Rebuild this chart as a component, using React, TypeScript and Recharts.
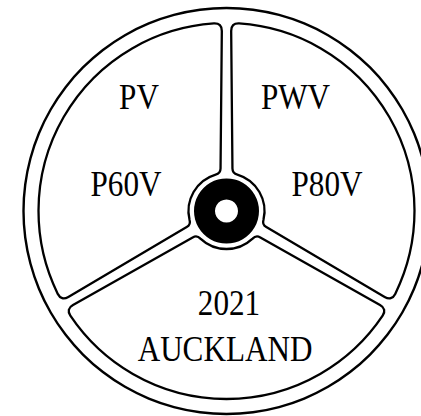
import React from "react"
import { Pie, PieChart } from "recharts"

// three panels of the wheel, drawn clockwise from the top spoke
const panels = ["upper-right", "bottom", "upper-left"]
const panelShare = [1, 1, 1]

const rimData = [{ name: "rim", value: 1 }]
const hubData = [{ name: "hub", value: 1 }]

const labelTexts = ["PV", "PWV", "P60V", "P80V", "2021", "AUCKLAND"]

const W = 421
const H = 416
const CX = 226.5
const CY = 211

const RAD = Math.PI / 180

const pt = (cx: number, cy: number, r: number, a: number) => ({
    x: cx + r * Math.cos(a * RAD),
    y: cy - r * Math.sin(a * RAD),
})

const toward = (p: any, q: any, k: number) => {
    const dx = q.x - p.x
    const dy = q.y - p.y
    const len = Math.sqrt(dx * dx + dy * dy)
    return { x: p.x + (dx / len) * k, y: p.y + (dy / len) * k }
}

// panel with spokes of (almost) constant width instead of paddingAngle wedges
const PanelShape = (props: any) => {
    const { cx, cy, innerRadius, outerRadius, startAngle, endAngle } = props
    const R = outerRadius
    const r0 = innerRadius
    const wo = 4.6 // half spoke width at the rim
    const wi = 6 // half spoke width at the hub
    const ko = 8 // corner rounding outside
    const ki = 5 // corner rounding at the hub
    const dO = Math.asin(wo / R) / RAD
    const dI = Math.asin(wi / r0) / RAD

    const aA = startAngle - dO
    const aB = endAngle + dO
    const aC = endAngle + dI
    const aD = startAngle - dI

    const A = pt(cx, cy, R, aA)
    const B = pt(cx, cy, R, aB)
    const C = pt(cx, cy, r0, aC)
    const D = pt(cx, cy, r0, aD)

    const A1 = pt(cx, cy, R, aA - ko / R / RAD)
    const B0 = pt(cx, cy, R, aB + ko / R / RAD)
    const B1 = toward(B, C, ko)
    const C0 = toward(C, B, ki)
    const C1 = pt(cx, cy, r0, aC + ki / r0 / RAD)
    const D0 = pt(cx, cy, r0, aD - ki / r0 / RAD)
    const D1 = toward(D, A, ki)
    const A0 = toward(A, D, ko)

    const d = [
        `M ${A1.x} ${A1.y}`,
        `A ${R} ${R} 0 0 1 ${B0.x} ${B0.y}`,
        `Q ${B.x} ${B.y} ${B1.x} ${B1.y}`,
        `L ${C0.x} ${C0.y}`,
        `Q ${C.x} ${C.y} ${C1.x} ${C1.y}`,
        `A ${r0} ${r0} 0 0 0 ${D0.x} ${D0.y}`,
        `Q ${D.x} ${D.y} ${D1.x} ${D1.y}`,
        `L ${A0.x} ${A0.y}`,
        `Q ${A.x} ${A.y} ${A1.x} ${A1.y}`,
        "Z",
    ].join(" ")

    return <path d={d} fill="#fff" stroke="#000" strokeWidth={2.3} strokeLinejoin="round" />
}

export default function App() {
    const panelData = panels.map((name, i) => ({ name, value: panelShare[i] }))

    // label anchor points (baseline centre)
    const labelPos = [
        [139, 109],
        [295.5, 109],
        [126, 196],
        [327, 196],
        [229, 315],
        [225, 361],
    ]

    return (
        <div style={{ position: "relative", width: W, height: H, background: "#fff" }}>
            <style>{`body{margin:0;background:#fff}`}</style>
            <PieChart width={W} height={H} margin={{ top: 0, right: 0, bottom: 0, left: 0 }}>
                <Pie
                    data={rimData}
                    dataKey="value"
                    cx={CX}
                    cy={CY}
                    innerRadius={201.8}
                    outerRadius={204.2}
                    startAngle={90}
                    endAngle={-270}
                    fill="#000"
                    stroke="none"
                    isAnimationActive={false}
                />
                <Pie
                    data={panelData}
                    dataKey="value"
                    cx={CX}
                    cy={CY}
                    innerRadius={38}
                    outerRadius={188}
                    startAngle={90}
                    endAngle={-270}
                    paddingAngle={0}
                    stroke="none"
                    shape={PanelShape}
                    isAnimationActive={false}
                />
                <Pie
                    data={hubData}
                    dataKey="value"
                    cx={CX}
                    cy={CY}
                    innerRadius={11.5}
                    outerRadius={32.5}
                    startAngle={90}
                    endAngle={-270}
                    fill="#000"
                    stroke="none"
                    isAnimationActive={false}
                />
            </PieChart>
            <svg
                width={W}
                height={H}
                style={{ position: "absolute", left: 0, top: 0, pointerEvents: "none" }}
            >
                {labelTexts.map((t, i) => (
                    <text
                        key={t}
                        transform={`translate(${labelPos[i][0]},${labelPos[i][1]}) scale(0.89,1)`}
                        textAnchor="middle"
                        fontFamily="'Liberation Serif', 'DejaVu Serif', serif"
                        fontSize={35}
                        fill="#000"
                    >
                        {t}
                    </text>
                ))}
            </svg>
        </div>
    )
}
